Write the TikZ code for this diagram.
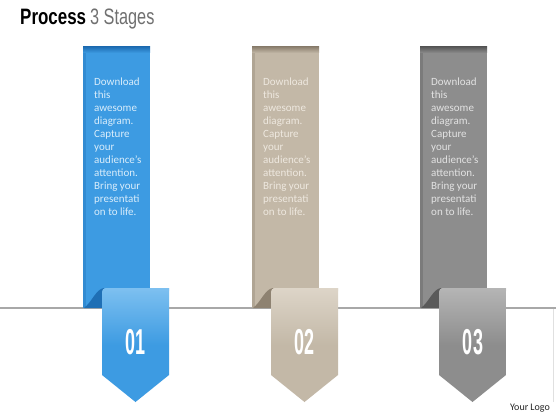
\documentclass[tikz,border=0pt]{standalone}
\usepackage{fontspec}
\setmainfont{Carlito}
\newfontfamily\titlefont{Liberation Sans}
\usetikzlibrary{calc}
\definecolor{blueM}{HTML}{3D9BE2}
\definecolor{blueD}{HTML}{1F6FB5}
\definecolor{blueL}{HTML}{7DC0F0}
\definecolor{blueT}{HTML}{D9EDFB}
\definecolor{beigeM}{HTML}{C3B8A7}
\definecolor{beigeD}{HTML}{8E8271}
\definecolor{beigeL}{HTML}{DDD5C8}
\definecolor{beigeT}{HTML}{EEE8DF}
\definecolor{grayM}{HTML}{8D8D8D}
\definecolor{grayD}{HTML}{5A5A5A}
\definecolor{grayL}{HTML}{B5B5B5}
\definecolor{grayT}{HTML}{E2E2E2}
\definecolor{lineC}{HTML}{A8A8A8}
\tikzset{
  bodytext/.style={anchor=north west, inner sep=0pt, align=left, font=\fontsize{11}{13}\selectfont},
  numtext/.style={text=white, inner sep=0pt, font=\titlefont\bfseries\fontsize{36}{36}\selectfont},
}
\begin{document}
\begin{tikzpicture}[x=1pt,y=-1pt]
\useasboundingbox (0,0) rectangle (560,420);
\fill[white] (0,0) rectangle (560,420);
% title
\node[anchor=base west, inner sep=0pt] (title) at (20,25) {\titlefont\fontsize{22.3}{22}\selectfont\scalebox{0.76}[1]{\bfseries Process}\hspace{4pt}\textcolor[HTML]{707070}{\scalebox{0.73}[1]{3 Stages}}};
% base line
\coordinate (L0) at (0,308);
\coordinate (L1) at (556,308);
\draw[lineC, line width=1.6pt] (L0) -- (L1);
\draw[black!12, line width=0.6pt] (553,309) -- (553,402);
% stages
\foreach \bx/\tx/\c/\n in {83/102/blue/01, 252/271/beige/02, 420/439/gray/03}{
  % bar
  \fill[\c M] (\bx,47) rectangle ++(67,261);
  \shade[top color=\c D, bottom color=\c M] (\bx,47) rectangle ++(67,6);
  \fill[\c D, opacity=0.35] (\bx,53) rectangle ++(3,255);
  % fold
  \fill[\c D] (\bx+1,308) .. controls (\bx+9,302) and (\bx+13,289) .. (\tx+2,288) -- (\tx+2,308) -- cycle;
  % tab
  \shade[top color=\c L, bottom color=\c M, middle color=\c M]
    (\tx+4,288) -- (\tx+67,288) -- (\tx+67,375) -- (\tx+33.5,402) -- (\tx,375) -- (\tx,292) to[out=90,in=180] cycle;
  \fill[\c L, opacity=0.6] (\tx+4,288) -- (\tx+67,288) -- (\tx+67,291) -- (\tx,291) -- (\tx,292) to[out=90,in=180] cycle;
  % number
  \node[numtext] (num\n) at (\tx+34,342) {\scalebox{0.5}[1]{\n}};
  % text
  \node[bodytext, text=\c T] (txt\n) at (\bx+11,78) {Download\\this\\awesome\\diagram.\\Capture\\your\\audience’s\\attention.\\Bring your\\presentati\\on to life.};
}
\node[inner sep=0pt, font=\fontsize{10}{10}\selectfont, text=black!85] (logo) at (530,408) {Your Logo};
\end{tikzpicture}
\end{document}
